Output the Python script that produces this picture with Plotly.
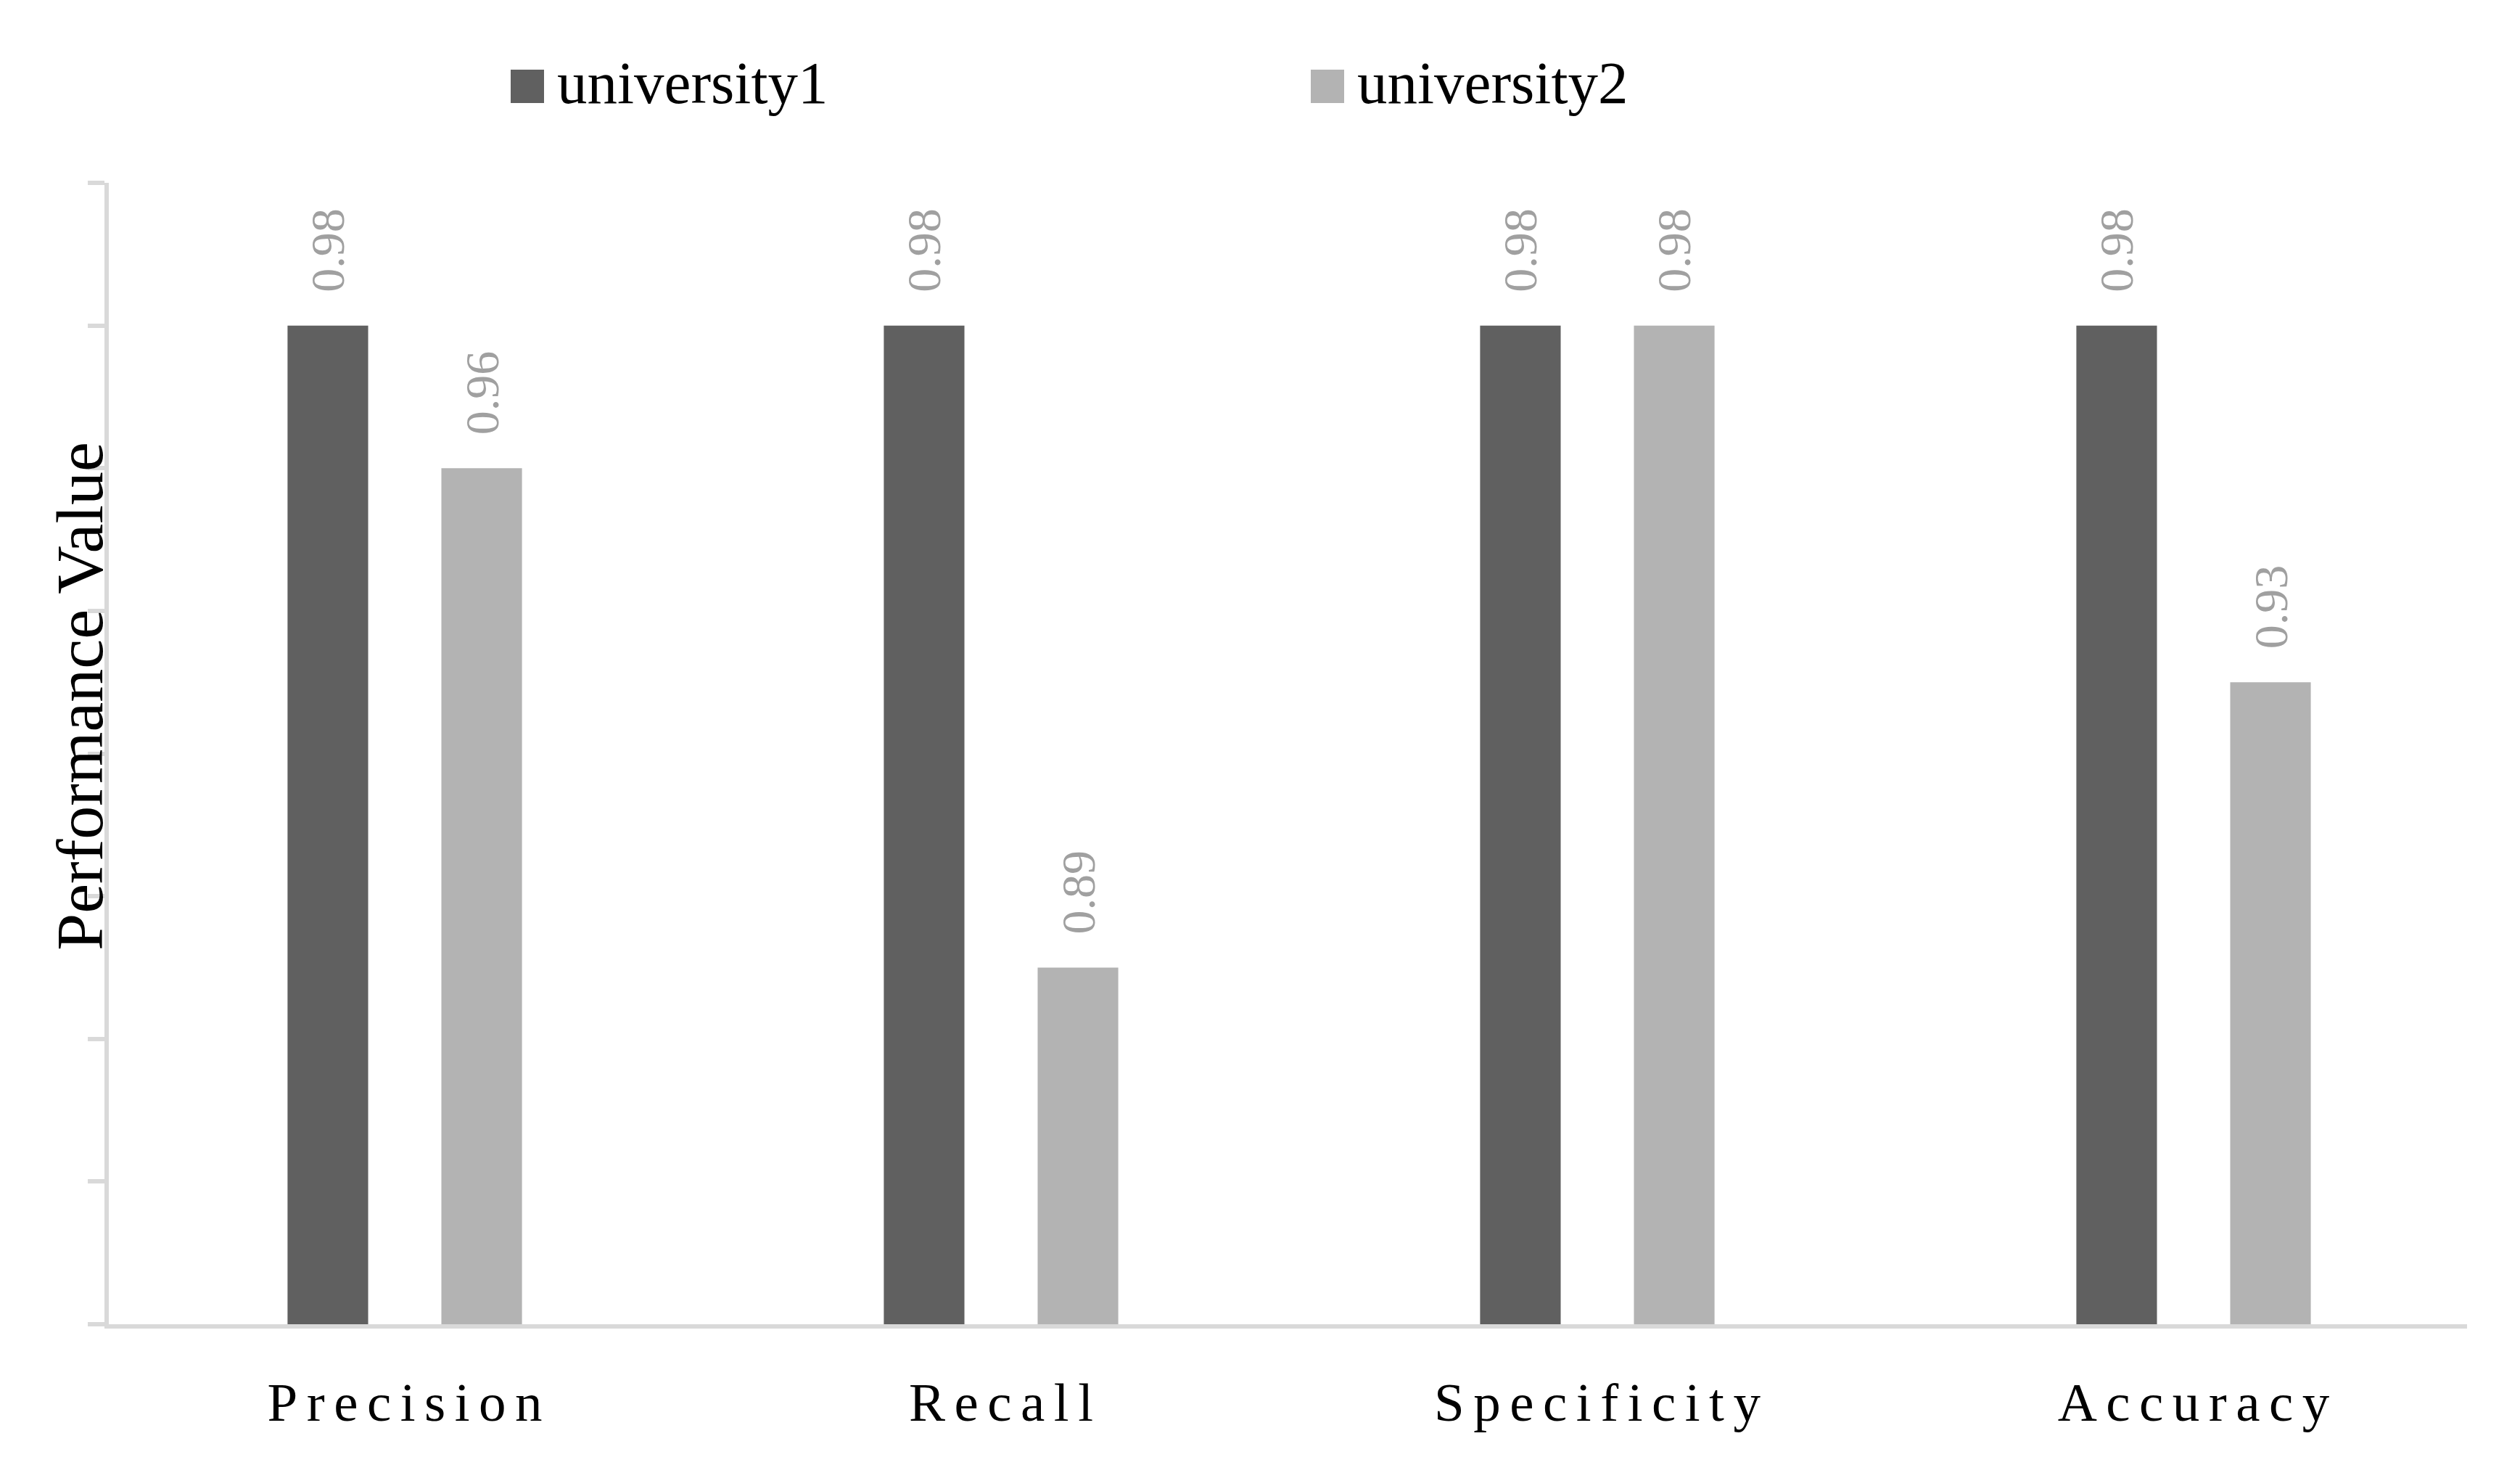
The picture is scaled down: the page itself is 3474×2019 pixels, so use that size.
import plotly.graph_objects as go

# chart values
metrics = ["Precision", "Recall", "Specificity", "Accuracy"]
series_names = ["university1", "university2"]
university1 = [0.98, 0.98, 0.98, 0.98]
university2 = [0.96, 0.89, 0.98, 0.93]
bar_colors = ["#606060", "#b3b3b3"]

# figure geometry (px); page body adds ~8px offset, so compensate
W, H = 3474, 2019
OFF = 8
L, T = 142, 252 - OFF
R, B = W - (3401 - OFF), H - (1825 - OFF)
PW, PH = W - L - R, H - T - B
CAT_W = 822      # px per category
FIRST_CAT = 550  # px centre of first category in the drawn page
x_start = -(FIRST_CAT - L) / CAT_W

def paper_x(px):
    return (px - OFF - L) / PW

def paper_y(py):
    return (H - B - (py - OFF)) / PH

FONT = "Liberation Serif"

fig = go.Figure()
for name, vals, col in zip(series_names, [university1, university2], bar_colors):
    fig.add_trace(go.Bar(x=metrics, y=vals, name=name, marker_color=col,
                         marker_line_width=0, showlegend=False))

# value labels, rotated, sitting above each bar
annotations = []
for i, vals in enumerate([university1, university2]):
    shift = -106 if i == 0 else 106
    for m, v in zip(metrics, vals):
        annotations.append(dict(x=m, y=v, xref="x", yref="y", text=f"{v:.2f}",
                                showarrow=False, textangle=-90, xshift=shift,
                                yshift=44, yanchor="bottom", xanchor="center",
                                font=dict(family=FONT, size=66, color="#a0a0a0")))

# axis title
annotations.append(dict(x=paper_x(110), y=paper_y(960), xref="paper", yref="paper",
                        text="Performance Value", textangle=-90, showarrow=False,
                        xanchor="center", yanchor="middle",
                        font=dict(family=FONT, size=92, color="black")))

# hand-made legend (plotly caps legend swatch size)
shapes = []
legend_left = [704, 1807]
for name, col, lx in zip(series_names, bar_colors, legend_left):
    shapes.append(dict(type="rect", xref="paper", yref="paper",
                       x0=paper_x(lx), x1=paper_x(lx + 46),
                       y0=paper_y(142), y1=paper_y(96),
                       fillcolor=col, line_width=0))
    annotations.append(dict(x=paper_x(lx + 62), y=paper_y(114), xref="paper", yref="paper",
                            text=name, showarrow=False, xanchor="left", yanchor="middle",
                            font=dict(family=FONT, size=83, color="black")))

spaced = ["\u2006".join(m) for m in metrics]

fig.update_layout(
    width=W, height=H,
    margin=dict(l=L, r=R, t=T, b=B),
    paper_bgcolor="white", plot_bgcolor="white",
    barmode="group", bargap=0.484, bargroupgap=0.476,
    annotations=annotations, shapes=shapes,
    xaxis=dict(tickvals=metrics, ticktext=spaced, showgrid=False, showline=True,
               range=[x_start, x_start + PW / CAT_W],
               linecolor="#d9d9d9", linewidth=6, ticks="",
               ticklabelstandoff=37,
               tickfont=dict(family=FONT, size=75, color="black")),
    yaxis=dict(range=[0.84, 1.0], dtick=0.02, showgrid=False, zeroline=False,
               showline=True, linecolor="#d9d9d9", linewidth=6,
               ticks="outside", ticklen=23, tickwidth=6, tickcolor="#d9d9d9",
               showticklabels=False),
)

fig.write_html("out.html")
